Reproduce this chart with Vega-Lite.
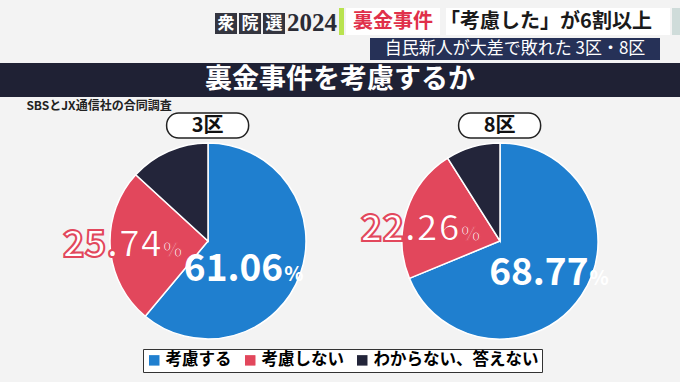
{
  "$schema": "https://vega.github.io/schema/vega-lite/v6.json",
  "background": "#f3f3f3",
  "padding": {"left": 0, "top": 0, "right": 0, "bottom": 10},
  "autosize": {"type": "pad"},
  "config": {
    "view": {"stroke": null},
    "font": "Noto Sans CJK JP",
    "text": {"font": "Noto Sans CJK JP"}
  },
  "datasets": {
    "poll": [
      {"区": "3区", "回答": "考慮する", "割合": 61.06, "順": 1},
      {"区": "3区", "回答": "考慮しない", "割合": 25.74, "順": 2},
      {"区": "3区", "回答": "わからない、答えない", "割合": 13.2, "順": 3},
      {"区": "8区", "回答": "考慮する", "割合": 68.77, "順": 1},
      {"区": "8区", "回答": "考慮しない", "割合": 22.26, "順": 2},
      {"区": "8区", "回答": "わからない、答えない", "割合": 8.97, "順": 3}
    ]
  },
  "spacing": 0,
  "vconcat": [
    {"width": 10, "height": 8, "data": {"values": []}, "mark": {"type": "text", "text": ""}},
    {
      "spacing": 2,
      "hconcat": [
        {"width": 213, "height": 27, "data": {"values": []}, "mark": {"type": "text", "text": ""}},
        {
          "spacing": 0,
          "vconcat": [
            {"width": 70, "height": 5, "data": {"values": []}, "mark": {"type": "text", "text": ""}},
            {
              "spacing": 2,
              "hconcat": [
                {"width": 22, "height": 21, "view": {"fill": "#34353f"}, "data": {"values": [{}]}, "mark": {"type": "text", "text": "衆", "color": "white", "fontSize": 17, "fontWeight": "bold", "baseline": "middle"}},
                {"width": 22, "height": 21, "view": {"fill": "#34353f"}, "data": {"values": [{}]}, "mark": {"type": "text", "text": "院", "color": "white", "fontSize": 17, "fontWeight": "bold", "baseline": "middle"}},
                {"width": 22, "height": 21, "view": {"fill": "#34353f"}, "data": {"values": [{}]}, "mark": {"type": "text", "text": "選", "color": "white", "fontSize": 17, "fontWeight": "bold", "baseline": "middle"}}
              ]
            }
          ]
        },
        {"width": 46, "height": 27, "data": {"values": [{}]}, "mark": {"type": "text", "text": "2024", "color": "#2b2b35", "font": "Liberation Serif", "fontSize": 25, "fontWeight": "bold", "baseline": "middle", "dy": 1}},
        {"width": 5, "height": 27, "view": {"fill": "#b9e34f"}, "data": {"values": []}, "mark": {"type": "text", "text": ""}},
        {
          "spacing": 0,
          "hconcat": [
            {"width": 94, "height": 27, "view": {"fill": "white"}, "data": {"values": [{}]}, "mark": {"type": "text", "text": "裏金事件", "color": "#e0304a", "fontSize": 20, "fontWeight": "bold", "baseline": "middle"}},
            {"width": 224, "height": 27, "view": {"fill": "white"}, "data": {"values": [{}]}, "mark": {"type": "text", "text": "「考慮した」が6割以上", "color": "#1a1a1a", "fontSize": 20, "fontWeight": "bold", "baseline": "middle", "dx": -12}}
          ]
        },
        {"width": 14, "height": 27, "view": {"fill": "#cfdcda"}, "data": {"values": []}, "mark": {"type": "text", "text": ""}}
      ]
    },
    {"width": 10, "height": 2, "data": {"values": []}, "mark": {"type": "text", "text": ""}},
    {
      "spacing": 0,
      "hconcat": [
        {"width": 370, "height": 22, "data": {"values": []}, "mark": {"type": "text", "text": ""}},
        {"width": 290, "height": 22, "view": {"fill": "#263157"}, "data": {"values": [{}]}, "mark": {"type": "text", "text": "自民新人が大差で敗れた 3区・8区", "color": "white", "fontSize": 17, "baseline": "middle"}}
      ]
    },
    {"width": 10, "height": 3, "data": {"values": []}, "mark": {"type": "text", "text": ""}},
    {"width": 680, "height": 34, "view": {"fill": "#1f2134"}, "data": {"values": [{}]}, "mark": {"type": "text", "text": "裏金事件を考慮するか", "color": "white", "fontSize": 27, "fontWeight": "bold", "baseline": "middle"}},
    {
      "spacing": 0,
      "hconcat": [
        {"width": 24, "height": 15, "data": {"values": []}, "mark": {"type": "text", "text": ""}},
        {"width": 150, "height": 15, "data": {"values": [{}]}, "mark": {"type": "text", "text": "SBSとJX通信社の合同調査", "color": "#222222", "fontSize": 12, "fontWeight": "bold", "baseline": "middle", "dy": 1}}
      ]
    },
    {
      "spacing": 0,
      "hconcat": [
        {"width": 62, "height": 226, "data": {"values": []}, "mark": {"type": "text", "text": ""}},
        {
          "spacing": 1,
          "center": true,
          "vconcat": [
            {"width": 82, "height": 25, "view": {"fill": "white", "stroke": "#222222", "strokeWidth": 1.5, "cornerRadius": 12}, "data": {"values": [{}]}, "mark": {"type": "text", "text": "3区", "color": "#111111", "fontSize": 20, "fontWeight": "bold", "baseline": "middle"}},
            {
              "width": 292, "height": 200,
              "data": {"name": "poll"},
              "transform": [{"filter": "datum['区'] === '3区'"}],
              "encoding": {
                "theta": {"field": "割合", "type": "quantitative", "stack": true},
                "order": {"field": "順", "type": "quantitative"},
                "detail": {"field": "回答", "type": "nominal"}
              },
              "layer": [
                {
                  "mark": {"type": "arc", "outerRadius": 98, "stroke": "white", "strokeWidth": 1.5},
                  "encoding": {
                    "color": {
                      "field": "回答", "type": "nominal",
                      "scale": {"domain": ["考慮する", "考慮しない", "わからない、答えない"], "range": ["#1f7fcf", "#e2475c", "#23253a"]},
                      "legend": {"orient": "none", "legendX": 143, "legendY": 349, "direction": "horizontal", "title": null, "fillColor": "white", "strokeColor": "#333333", "padding": 3, "symbolType": "square", "symbolSize": 110, "symbolStrokeWidth": 0, "labelFontSize": 16.5, "labelFont": "Noto Sans CJK JP", "labelFontWeight": "bold", "labelLimit": 300, "columnPadding": 10, "labelOffset": 3, "encode": {"labels": {"update": {"fill": {"scale": "color", "field": "value"}}}}}
                    }
                  }
                },
                {
                  "mark": {"type": "text", "radius": 80, "align": "right", "baseline": "alphabetic", "dy": 13, "fontWeight": "bold", "fill": "white"},
                  "encoding": {
                    "text": {"condition": {"test": "datum['回答'] === '考慮する'", "field": "割合", "type": "quantitative", "format": ".2f"}, "value": ""},
                    "size": {"condition": {"test": "datum['回答'] === '考慮する'", "value": 37}, "value": 0}
                  }
                },
                {
                  "mark": {"type": "text", "radius": 80, "align": "left", "baseline": "alphabetic", "dy": 13, "dx": 1, "fontWeight": "bold", "fill": "white"},
                  "encoding": {
                    "text": {"condition": {"test": "datum['回答'] !== '考慮する'", "value": ""}, "value": "%"},
                    "size": {"condition": {"test": "datum['回答'] === '考慮する'", "value": 20}, "value": 0}
                  }
                },
                {
                  "mark": {"type": "text", "radius": 46, "align": "right", "baseline": "alphabetic", "dy": 13, "fontWeight": "bold", "fill": "white", "stroke": "#e2475c", "strokeWidth": 2},
                  "encoding": {
                    "text": {"condition": {"test": "datum['回答'] === '考慮しない'", "field": "割合", "type": "quantitative", "format": ".2f"}, "value": ""},
                    "size": {"condition": {"test": "datum['回答'] === '考慮しない'", "value": 37}, "value": 0}
                  }
                },
                {
                  "mark": {"type": "text", "radius": 46, "align": "left", "baseline": "alphabetic", "dy": 13, "dx": 1, "fontWeight": "bold", "fill": "white", "stroke": "#e2475c", "strokeWidth": 1.2},
                  "encoding": {
                    "text": {"condition": {"test": "datum['回答'] !== '考慮しない'", "value": ""}, "value": "%"},
                    "size": {"condition": {"test": "datum['回答'] === '考慮しない'", "value": 20}, "value": 0}
                  }
                }
              ]
            }
          ]
        },
        {
          "spacing": 1,
          "center": true,
          "vconcat": [
            {"width": 82, "height": 25, "view": {"fill": "white", "stroke": "#222222", "strokeWidth": 1.5, "cornerRadius": 12}, "data": {"values": [{}]}, "mark": {"type": "text", "text": "8区", "color": "#111111", "fontSize": 20, "fontWeight": "bold", "baseline": "middle"}},
            {
              "width": 292, "height": 200,
              "data": {"name": "poll"},
              "transform": [{"filter": "datum['区'] === '8区'"}],
              "encoding": {
                "theta": {"field": "割合", "type": "quantitative", "stack": true},
                "order": {"field": "順", "type": "quantitative"},
                "detail": {"field": "回答", "type": "nominal"}
              },
              "layer": [
                {
                  "mark": {"type": "arc", "outerRadius": 98, "stroke": "white", "strokeWidth": 1.5},
                  "encoding": {
                    "color": {
                      "field": "回答", "type": "nominal",
                      "scale": {"domain": ["考慮する", "考慮しない", "わからない、答えない"], "range": ["#1f7fcf", "#e2475c", "#23253a"]},
                      "legend": {"orient": "none", "legendX": 143, "legendY": 349, "direction": "horizontal", "title": null, "fillColor": "white", "strokeColor": "#333333", "padding": 3, "symbolType": "square", "symbolSize": 110, "symbolStrokeWidth": 0, "labelFontSize": 16.5, "labelFont": "Noto Sans CJK JP", "labelFontWeight": "bold", "labelLimit": 300, "columnPadding": 10, "labelOffset": 3, "encode": {"labels": {"update": {"fill": {"scale": "color", "field": "value"}}}}}
                    }
                  }
                },
                {
                  "mark": {"type": "text", "radius": 80, "align": "right", "baseline": "alphabetic", "dy": 0, "dx": 22, "fontWeight": "bold", "fill": "white"},
                  "encoding": {
                    "text": {"condition": {"test": "datum['回答'] === '考慮する'", "field": "割合", "type": "quantitative", "format": ".2f"}, "value": ""},
                    "size": {"condition": {"test": "datum['回答'] === '考慮する'", "value": 37}, "value": 0}
                  }
                },
                {
                  "mark": {"type": "text", "radius": 80, "align": "left", "baseline": "alphabetic", "dy": 0, "dx": 23, "fontWeight": "bold", "fill": "white"},
                  "encoding": {
                    "text": {"condition": {"test": "datum['回答'] !== '考慮する'", "value": ""}, "value": "%"},
                    "size": {"condition": {"test": "datum['回答'] === '考慮する'", "value": 20}, "value": 0}
                  }
                },
                {
                  "mark": {"type": "text", "radius": 42, "align": "right", "baseline": "alphabetic", "dy": 13, "fontWeight": "bold", "fill": "white", "stroke": "#e2475c", "strokeWidth": 2},
                  "encoding": {
                    "text": {"condition": {"test": "datum['回答'] === '考慮しない'", "field": "割合", "type": "quantitative", "format": ".2f"}, "value": ""},
                    "size": {"condition": {"test": "datum['回答'] === '考慮しない'", "value": 37}, "value": 0}
                  }
                },
                {
                  "mark": {"type": "text", "radius": 42, "align": "left", "baseline": "alphabetic", "dy": 13, "dx": 1, "fontWeight": "bold", "fill": "white", "stroke": "#e2475c", "strokeWidth": 1.2},
                  "encoding": {
                    "text": {"condition": {"test": "datum['回答'] !== '考慮しない'", "value": ""}, "value": "%"},
                    "size": {"condition": {"test": "datum['回答'] === '考慮しない'", "value": 20}, "value": 0}
                  }
                }
              ]
            }
          ]
        }
      ]
    }
  ]
}
